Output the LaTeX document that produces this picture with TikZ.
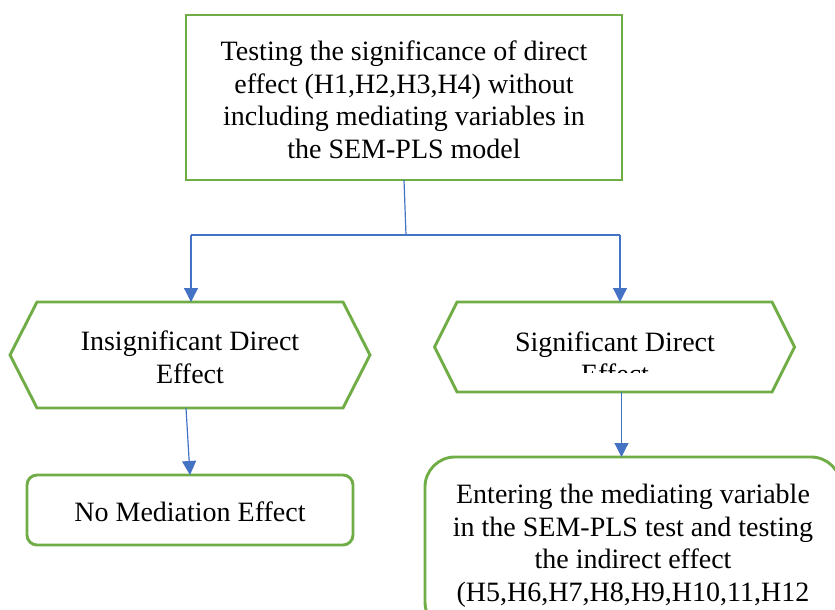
\documentclass[tikz,border=0pt]{standalone}
\usepackage{fontspec}
\setmainfont{Liberation Serif}
\usetikzlibrary{arrows.meta,calc}
\definecolor{boxgreen}{HTML}{70AD47}
\definecolor{linkblue}{HTML}{4472C4}
\begin{document}
\begin{tikzpicture}[x=1pt,y=-1pt,
  every node/.style={font=\fontsize{28}{32.5}\selectfont, align=center,
    inner sep=0pt, outer sep=0pt},
  greenline/.style={draw=boxgreen, line width=2.9pt},
  link/.style={draw=linkblue, line width=1.2pt},
  tiplink/.style={link, -{Triangle[width=14pt,length=14pt]}}]
\useasboundingbox (0,0) rectangle (835,610);
\clip (0,0) rectangle (835,610);

% first step
\node[greenline, minimum width=436pt, minimum height=165pt] (top) at (404,97.5) {};
\node (toptext) at (404,100)
  {Testing the significance of direct\\effect (H1,H2,H3,H4) without\\including mediating variables in\\the SEM-PLS model};

% two outcomes (hexagons)
\node[minimum width=306pt, minimum height=106pt] (ins) at (190,355) {};
\node (instext) at (190,357.5) {Insignificant Direct\\Effect};
\draw[greenline, line join=miter] (ins.north west) -- (ins.north east)
  -- ($(ins.east)+(27,0)$) -- (ins.south east) -- (ins.south west)
  -- ($(ins.west)+(-27,0)$) -- cycle;

\node[minimum width=315pt, minimum height=90pt] (sig) at (614.5,347) {};
\draw[greenline, line join=miter] (sig.north west) -- (sig.north east)
  -- ($(sig.east)+(22.5,0)$) -- (sig.south east) -- (sig.south west)
  -- ($(sig.west)+(-22.5,0)$) -- cycle;
\begin{scope}
  \clip (440,300) rectangle (790,372);
  \node (sigtext) at (615,358) {Significant Direct\\Effect};
\end{scope}

% final steps
\node[greenline, rounded corners=10pt, minimum width=326pt, minimum height=70pt]
  (nme) at (190,510) {};
\node (nmetext) at (190,512) {No Mediation Effect};
\node[greenline, rounded corners=30pt, minimum width=416pt, minimum height=175pt]
  (ent) at (633,544.5) {};
\node (enttext) at (633,546)
  {Entering the mediating variable\\in the SEM-PLS test and testing\\the indirect effect\\(H5,H6,H7,H8,H9,H10,11,H12};

% connectors
\coordinate (split) at (406,235);
\coordinate (jl) at (191,235);
\coordinate (jr) at (620,235);
\draw[link] (top.south) -- (split);
\draw[link] (jl) -- (jr);
\draw[tiplink] (jl) -- (jl |- ins.north);
\draw[tiplink] (jr) -- (jr |- sig.north);
\coordinate (insout) at ($(ins.south)+(-4,0)$);
\draw[tiplink] (insout) -- (nme.north);
\coordinate (sigout) at ($(sig.south)+(7,0)$);
\draw[tiplink] (sigout) -- (sigout |- ent.north);
\end{tikzpicture}
\end{document}
